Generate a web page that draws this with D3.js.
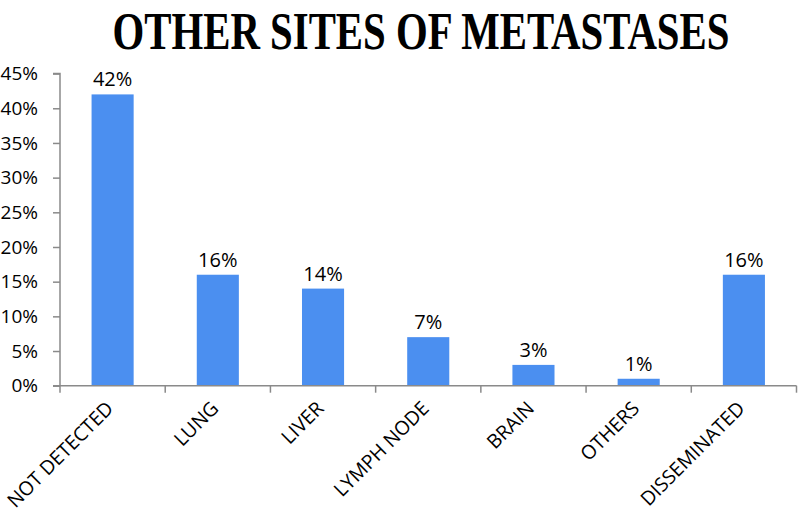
<!DOCTYPE html>
<html>
<head>
<meta charset="utf-8">
<script src="https://cdn.jsdelivr.net/npm/d3@7"></script>
<style>
  html, body { margin: 0; padding: 0; background: #fff; }
  svg { display: block; }
</style>
</head>
<body>
<svg id="chart" width="799" height="513"></svg>
<script>
const title = "OTHER SITES OF METASTASES";
const categories = ["NOT DETECTED", "LUNG", "LIVER", "LYMPH NODE", "BRAIN", "OTHERS", "DISSEMINATED"];
const values = [42, 16, 14, 7, 3, 1, 16];
const yTicks = [0, 5, 10, 15, 20, 25, 30, 35, 40, 45];

const svg = d3.select("#chart");
const mLeft = 60, mRight = 796.5, mTop = 73.6, mBottom = 385.7;
const axisColor = "#8a8a8a";
const barColor = "#4b8ff0";
const font = "'Open Sans', sans-serif";

const x = d3.scaleBand().domain(categories).range([mLeft, mRight]).padding(0);
const y = d3.scaleLinear().domain([0, 45]).range([mBottom, mTop]);

// title (condensed horizontally to match the reference width)
const titleG = svg.append("g");
const titleText = titleG.append("text")
  .attr("x", 0).attr("y", 0)
  .attr("text-anchor", "middle")
  .attr("font-family", "'Liberation Serif', 'Times New Roman', serif")
  .attr("font-weight", "bold")
  .attr("font-size", 52)
  .attr("fill", "#000")
  .text(title);
const natW = titleText.node().getComputedTextLength() || 617;
titleG.attr("transform", `translate(421,49) scale(${617 / natW},1)`);

// y axis
const yAxis = svg.append("g")
  .attr("transform", `translate(${mLeft},0)`)
  .call(d3.axisLeft(y).tickValues(yTicks).tickSize(7).tickPadding(15).tickFormat(d => d + "%"));
yAxis.select(".domain").attr("stroke", axisColor).attr("stroke-width", 1.5).attr("d", `M-7,${mTop}H0V${mBottom}`);
yAxis.selectAll(".tick line").attr("stroke", axisColor).attr("stroke-width", 1.5);
yAxis.selectAll(".tick text").attr("font-family", font).attr("font-size", 19).attr("fill", "#000");

// bars
const barW = x.bandwidth() * 0.4;
svg.append("g").selectAll("rect")
  .data(categories)
  .join("rect")
  .attr("x", (d) => x(d) + (x.bandwidth() - barW) / 2)
  .attr("width", barW)
  .attr("y", (d, i) => y(values[i]))
  .attr("height", (d, i) => y(0) - y(values[i]))
  .attr("fill", barColor);

// x axis
const xAxis = svg.append("g")
  .attr("transform", `translate(0,${mBottom})`)
  .call(d3.axisBottom(x).tickSize(0).tickFormat(""));
xAxis.select(".domain").attr("stroke", axisColor).attr("stroke-width", 1.5).attr("d", `M${mLeft - 7},0H${mRight}`);
xAxis.selectAll(".tick").remove();
// boundary ticks between categories
const bounds = categories.map(c => x(c)).concat([mRight]);
svg.append("g").selectAll("line")
  .data(bounds)
  .join("line")
  .attr("x1", d => d).attr("x2", d => d)
  .attr("y1", mBottom).attr("y2", mBottom + 7)
  .attr("stroke", axisColor).attr("stroke-width", 1.5);

// x labels rotated
svg.append("g").selectAll("text")
  .data(categories)
  .join("text")
  .attr("transform", d => `translate(${x(d) + x.bandwidth() / 2 + 2},${mBottom + 24}) rotate(-45)`)
  .attr("text-anchor", "end")
  .attr("font-family", font)
  .attr("font-size", 19.5)
  .attr("fill", "#000")
  .text(d => d);

// value labels
svg.append("g").selectAll("text")
  .data(categories)
  .join("text")
  .attr("x", d => x(d) + x.bandwidth() / 2)
  .attr("y", (d, i) => y(values[i]) - 8)
  .attr("text-anchor", "middle")
  .attr("font-family", font)
  .attr("font-size", 20)
  .attr("fill", "#000")
  .text((d, i) => values[i] + "%");
</script>
</body>
</html>
